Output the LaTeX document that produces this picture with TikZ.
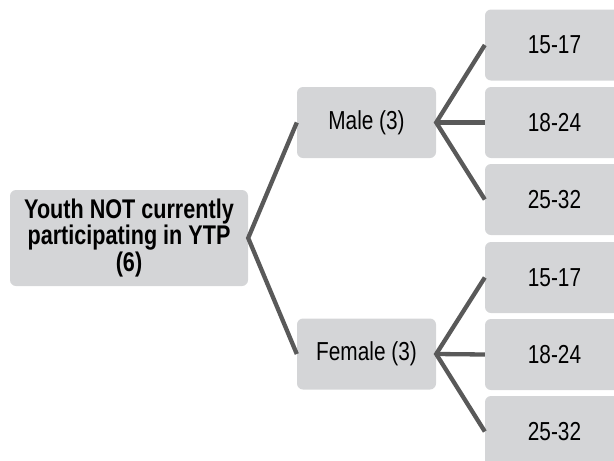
\documentclass[tikz,border=0pt]{standalone}
\usepackage{fontspec}
\setmainfont{Liberation Sans}[FakeStretch=0.8]
\definecolor{boxgray}{HTML}{D4D5D7}
\definecolor{linegray}{HTML}{595959}
\tikzset{
  agebox/.style={fill=boxgray, rounded corners=6pt, minimum width=139pt,
    minimum height=71pt, inner sep=0pt, font=\fontsize{26}{28}\selectfont},
  sexbox/.style={agebox},
  rootbox/.style={fill=boxgray, rounded corners=6pt, minimum width=238pt,
    minimum height=96pt, inner sep=0pt, align=center,
    font=\bfseries\fontsize{27}{23}\selectfont},
  branch/.style={draw=linegray, line width=4.3pt}
}
\begin{document}
\begin{tikzpicture}[x=1pt, y=1pt]
\useasboundingbox (0,0) rectangle (614,-461);
\clip (0,0) rectangle (614,-461);

\node[rootbox] (youth) at (129,-238) {Youth NOT currently\\participating in YTP\\(6)};

\node[sexbox] (male) at (366.5,-122.5) {Male (3)};
\node[sexbox] (female) at (366.5,-354) {Female (3)};

\node[agebox] (m1517) at (554.5,-45) {15-17};
\node[agebox] (m1824) at (554.5,-122.5) {18-24};
\node[agebox] (m2532) at (554.5,-199.5) {25-32};
\node[agebox] (f1517) at (554.5,-277.5) {15-17};
\node[agebox] (f1824) at (554.5,-354.5) {18-24};
\node[agebox] (f2532) at (554.5,-431.5) {25-32};

\draw[branch] (male.west) -- (youth.east) -- (female.west);
\draw[branch] (m1517.west) -- (male.east) -- (m2532.west);
\draw[branch] (male.east) -- (m1824.west);
\draw[branch] (f1517.west) -- (female.east) -- (f2532.west);
\draw[branch] (female.east) -- (f1824.west);

\end{tikzpicture}
\end{document}
